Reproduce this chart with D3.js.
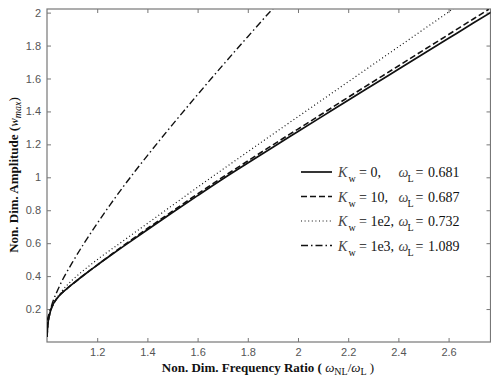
<html>
  <head>
    <script src="https://cdn.jsdelivr.net/npm/d3@7"></script>
    <style>
      body { margin: 0; background: #fff; }
      .tick-label { font-family: "Liberation Sans", Arial, sans-serif; font-size: 11px; fill: #555; }
      .axis-title { font-family: "Liberation Serif", "Times New Roman", serif; font-size: 13px; font-weight: bold; fill: #111; }
      .legend-text { font-family: "Liberation Serif", "Times New Roman", serif; font-size: 14px; fill: #111; }
    </style>
  </head>
  <body>
    <div id="container"></div>
    <script>
      // tick labels
      const xTicks = [1.2, 1.4, 1.6, 1.8, 2, 2.2, 2.4, 2.6];
      const yTicks = [0.2, 0.4, 0.6, 0.8, 1, 1.2, 1.4, 1.6, 1.8, 2];

      // legend entries
      const kwLabels = ["0,", "10,", "1e2,", "1e3,"];
      const omegaL = ["0.681", "0.687", "0.732", "1.089"];

      // Kw = 0 (solid)
      const x0 = [1.0, 1.003, 1.01, 1.02, 1.035, 1.05, 1.075, 1.1, 1.15, 1.2, 1.25, 1.3, 1.4, 1.5, 1.6, 1.7, 1.8, 1.9, 2.0, 2.1, 2.2, 2.3, 2.4, 2.5, 2.6, 2.7, 2.77];
      const y0 = [0.03, 0.1, 0.165, 0.215, 0.255, 0.283, 0.318, 0.35, 0.41, 0.467, 0.522, 0.576, 0.682, 0.786, 0.889, 0.99, 1.087, 1.183, 1.278, 1.373, 1.468, 1.562, 1.656, 1.75, 1.844, 1.938, 2.003];

      // Kw = 10 (dashed)
      const x1 = [1.0, 1.003, 1.01, 1.02, 1.035, 1.05, 1.075, 1.1, 1.15, 1.2, 1.25, 1.3, 1.4, 1.5, 1.6, 1.7, 1.8, 1.9, 2.0, 2.1, 2.2, 2.3, 2.4, 2.5, 2.6, 2.7, 2.76];
      const y1 = [0.03, 0.1, 0.165, 0.215, 0.255, 0.283, 0.318, 0.35, 0.41, 0.467, 0.525, 0.581, 0.689, 0.794, 0.899, 1.001, 1.099, 1.197, 1.293, 1.389, 1.486, 1.581, 1.676, 1.772, 1.867, 1.963, 2.02];

      // Kw = 1e2 (dotted)
      const x2 = [1.0, 1.01, 1.03, 1.06, 1.1, 1.15, 1.2, 1.3, 1.4, 1.5, 1.6, 1.7, 1.8, 1.9, 2.0, 2.1, 2.2, 2.3, 2.4, 2.5, 2.6, 2.62];
      const y2 = [0.07, 0.16, 0.24, 0.31, 0.375, 0.44, 0.5, 0.61, 0.72, 0.83, 0.94, 1.048, 1.155, 1.262, 1.368, 1.474, 1.58, 1.686, 1.792, 1.898, 2.004, 2.026];

      // Kw = 1e3 (dash-dot)
      const x3 = [1.0, 1.02, 1.05, 1.1, 1.15, 1.2, 1.25, 1.3, 1.35, 1.4, 1.45, 1.5, 1.6, 1.7, 1.8, 1.9, 1.91];
      const y3 = [0.13, 0.23, 0.34, 0.48, 0.605, 0.72, 0.83, 0.935, 1.035, 1.132, 1.227, 1.32, 1.502, 1.68, 1.854, 2.024, 2.04];

      const series = [
        { xs: x0, ys: y0, dash: null, width: 1.7 },
        { xs: x1, ys: y1, dash: "6,3", width: 1.6 },
        { xs: x2, ys: y2, dash: "1,2.6", width: 1.2 },
        { xs: x3, ys: y3, dash: "7,3,1.5,3", width: 1.4 },
      ];

      const w = 491;
      const h = 381;
      const m = { left: 47, right: 490.5, top: 9, bottom: 342 };

      const x = d3.scaleLinear().domain([1.0, 2.767]).range([m.left, m.right]);
      const y = d3.scaleLinear().domain([0, 2.022]).range([m.bottom, m.top]);

      const svg = d3.select("#container").append("svg")
        .attr("width", w).attr("height", h);

      // frame
      svg.append("rect")
        .attr("x", m.left).attr("y", m.top)
        .attr("width", m.right - m.left).attr("height", m.bottom - m.top)
        .attr("fill", "none").attr("stroke", "#777").attr("stroke-width", 1.2);

      // axes with inward ticks
      const axisColor = "#777";
      const gx = svg.append("g").attr("transform", `translate(0,${m.bottom})`)
        .call(d3.axisBottom(x).tickValues(xTicks).tickSizeInner(-4).tickSizeOuter(0).tickPadding(6).tickFormat(d3.format("")));
      const gxt = svg.append("g").attr("transform", `translate(0,${m.top})`)
        .call(d3.axisTop(x).tickValues(xTicks).tickSizeInner(-4).tickSizeOuter(0).tickFormat(""));
      const gy = svg.append("g").attr("transform", `translate(${m.left},0)`)
        .call(d3.axisLeft(y).tickValues(yTicks).tickSizeInner(-4).tickSizeOuter(0).tickPadding(6).tickFormat(d3.format("")));
      const gyr = svg.append("g").attr("transform", `translate(${m.right},0)`)
        .call(d3.axisRight(y).tickValues(yTicks).tickSizeInner(-4).tickSizeOuter(0).tickFormat(""));

      [gx, gxt, gy, gyr].forEach((g) => {
        g.select(".domain").remove();
        g.selectAll("line").attr("stroke", axisColor);
        g.selectAll("text").attr("class", "tick-label").attr("fill", null);
      });

      // curves
      const line = d3.line().x((d) => x(d[0])).y((d) => y(d[1])).curve(d3.curveMonotoneX);
      svg.append("clipPath").attr("id", "clip")
        .append("rect").attr("x", m.left).attr("y", m.top)
        .attr("width", m.right - m.left).attr("height", m.bottom - m.top);

      series.forEach((s) => {
        svg.append("path")
          .datum(s.xs.map((v, i) => [v, s.ys[i]]))
          .attr("clip-path", "url(#clip)")
          .attr("d", line)
          .attr("fill", "none")
          .attr("stroke", "#111")
          .attr("stroke-width", s.width)
          .attr("stroke-dasharray", s.dash);
      });

      // legend
      const legendY = [172, 196.5, 221, 245.5];
      series.forEach((s, i) => {
        const ly = legendY[i];
        svg.append("line")
          .attr("x1", 301).attr("x2", 332).attr("y1", ly).attr("y2", ly)
          .attr("stroke", "#111").attr("stroke-width", s.width)
          .attr("stroke-dasharray", s.dash);

        const t = svg.append("text").attr("class", "legend-text")
          .attr("y", ly + 5);
        t.append("tspan").attr("x", 338).attr("font-style", "italic").attr("fill", "#444").text("K");
        t.append("tspan").attr("x", 348.5).attr("font-size", "10px").attr("dy", 5).text("w");
        t.append("tspan").attr("x", 359).attr("dy", -5).text("= " + kwLabels[i]);
        t.append("tspan").attr("x", 398.5).attr("font-style", "italic").attr("fill", "#444").text("\u03c9");
        t.append("tspan").attr("x", 407.5).attr("font-size", "10px").attr("dy", 5).text("L");
        t.append("tspan").attr("x", 415.5).attr("dy", -5).text("=");
        t.append("tspan").attr("x", 428).text(omegaL[i]);
      });

      // x axis title
      const xt = svg.append("text").attr("class", "axis-title")
        .attr("x", 268).attr("y", 372).attr("text-anchor", "middle");
      xt.append("tspan").text("Non. Dim. Frequency Ratio ( ");
      xt.append("tspan").attr("font-style", "italic").attr("font-weight", "normal").text("\u03c9");
      xt.append("tspan").attr("font-size", "10px").attr("font-weight", "normal").attr("dy", 3).text("NL");
      xt.append("tspan").attr("dy", -3).attr("font-weight", "normal").text("/");
      xt.append("tspan").attr("font-style", "italic").attr("font-weight", "normal").text("\u03c9");
      xt.append("tspan").attr("font-size", "10px").attr("font-weight", "normal").attr("dy", 3).text("L");
      xt.append("tspan").attr("dy", -3).attr("font-weight", "normal").text(" )");

      // y axis title
      const yt = svg.append("text").attr("class", "axis-title")
        .attr("transform", "translate(18,175) rotate(-90)")
        .attr("text-anchor", "middle");
      yt.append("tspan").text("Non. Dim. Amplitude (");
      yt.append("tspan").attr("font-style", "italic").attr("font-weight", "normal").text("w");
      yt.append("tspan").attr("font-size", "10px").attr("font-weight", "normal").attr("font-style", "italic").attr("dy", 3).text("max");
      yt.append("tspan").attr("dy", -3).attr("font-weight", "normal").text(")");
    </script>
  </body>
</html>
